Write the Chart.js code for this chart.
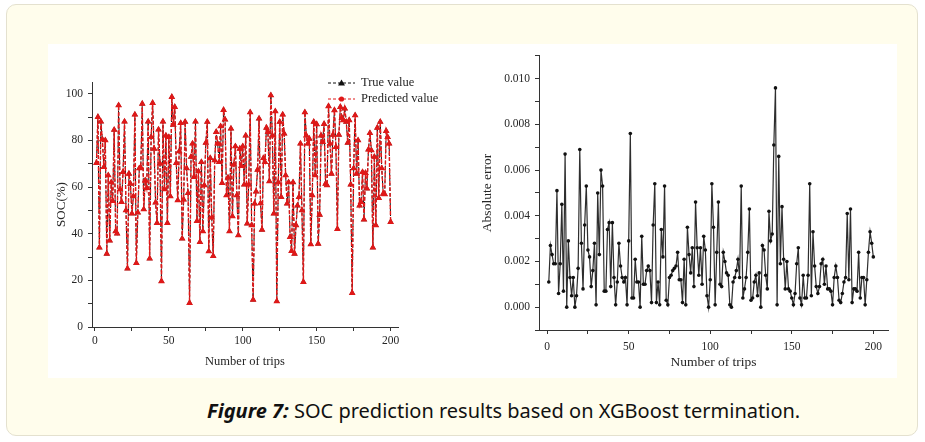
<!DOCTYPE html>
<html>
<head>
<meta charset="utf-8">
<script src="https://cdn.jsdelivr.net/npm/chart.js@4.4.1/dist/chart.umd.min.js"></script>
<style>
  html, body { margin: 0; padding: 0; }
  body { width: 925px; height: 442px; background: #ffffff; position: relative; overflow: hidden; }
  #frame { position: absolute; left: 6px; top: 4px; width: 910px; height: 430px; background: #fffdec; border: 1px solid #e4e1cf; border-radius: 10px; }
  #panel { position: absolute; left: 48px; top: 44px; width: 849px; height: 334px; background: #ffffff; }
  .box { position: absolute; top: 44px; height: 334px; }
  #socBox { left: 40px; width: 400px; }
  #errBox { left: 470px; width: 427px; }
  #caption { position: absolute; left: 207px; top: 397px; font-family: "Noto Sans", sans-serif; font-size: 20px; color: #111; white-space: nowrap; }
  #caption span.inner { display: inline-block; transform-origin: left center; }
</style>
</head>
<body>
<div id="frame"></div>
<div id="panel"></div>
<div class="box" id="socBox"><canvas id="socChart"></canvas></div>
<div class="box" id="errBox"><canvas id="errChart"></canvas></div>
<div id="caption"><span class="inner"><b><i>Figure 7:</i></b> SOC prediction results based on XGBoost termination.</span></div>

<script>
// trips 1..200
const trips = [];
for (let i = 1; i <= 200; i++) trips.push(i);

const trueSoc = [
  70.3, 90, 34, 88, 80.4, 68.5, 80, 31.4, 65, 37,
  62, 54, 84.5, 41, 40, 95, 59, 53.5, 66.4, 88,
  50, 25, 65.7, 61.4, 48.6, 56, 91, 27.4, 49, 68,
  68.3, 95.7, 50.4, 62.8, 59.5, 88, 29.3, 81.4, 96, 76.4,
  53.3, 44.6, 84.6, 70, 19.6, 88, 59, 82, 44.6, 81.4,
  56, 98.6, 86.7, 94.3, 70.3, 54.3, 75.3, 87.4, 37.9, 54.6,
  87.9, 68, 57.4, 10.3, 72.9, 78.6, 64.3, 88, 45.4, 66.7,
  36.4, 70.7, 41, 60.7, 78.9, 87.9, 32.4, 72.4, 46.9, 30.4,
  71.4, 83.6, 78.6, 70.7, 86, 61.7, 93, 88.9, 56.4, 64,
  41, 85, 47.4, 69.6, 77.4, 56.4, 39.3, 76.4, 69, 77.4,
  61, 82, 44.3, 61, 92, 43.6, 11.7, 52.9, 58, 67.4,
  89.3, 53, 41.7, 72.4, 70.7, 85.4, 83.6, 62.4, 99.3, 82,
  48.6, 92.4, 11, 62, 87.9, 55.7, 91, 82.9, 65, 52.9,
  62, 38.6, 32.6, 62, 31.4, 43.6, 52, 55.7, 78.6, 50,
  19.3, 92, 82, 78.6, 80.7, 35.4, 56.4, 87.9, 65, 86.9,
  35.7, 48.1, 82, 79.3, 87, 61.4, 60.7, 94.6, 78.6, 65.7,
  82.4, 92.9, 77.1, 42, 82.4, 94.3, 89.7, 88.6, 93.6, 87.9,
  78.9, 88.6, 61, 14.6, 68, 90.7, 65.7, 80, 52, 53.6,
  66.4, 46, 66, 59.3, 76, 83.1, 75.7, 34, 72.9, 43.6,
  85.4, 55.3, 87.9, 68, 57.1, 56.9, 84, 81.4, 78.6, 45
];

// predicted values sit on top of the true values at this scale
const predictedSoc = [
  70.3, 90, 34, 88, 80.4, 68.5, 80, 31.4, 65, 37,
  62, 54, 84.5, 41, 40, 95, 59, 53.5, 66.4, 88,
  50, 25, 65.7, 61.4, 48.6, 56, 91, 27.4, 49, 68,
  68.3, 95.7, 50.4, 62.8, 59.5, 88, 29.3, 81.4, 96, 76.4,
  53.3, 44.6, 84.6, 70, 19.6, 88, 59, 82, 44.6, 81.4,
  56, 98.6, 86.7, 94.3, 70.3, 54.3, 75.3, 87.4, 37.9, 54.6,
  87.9, 68, 57.4, 10.3, 72.9, 78.6, 64.3, 88, 45.4, 66.7,
  36.4, 70.7, 41, 60.7, 78.9, 87.9, 32.4, 72.4, 46.9, 30.4,
  71.4, 83.6, 78.6, 70.7, 86, 61.7, 93, 88.9, 56.4, 64,
  41, 85, 47.4, 69.6, 77.4, 56.4, 39.3, 76.4, 69, 77.4,
  61, 82, 44.3, 61, 92, 43.6, 11.7, 52.9, 58, 67.4,
  89.3, 53, 41.7, 72.4, 70.7, 85.4, 83.6, 62.4, 99.3, 82,
  48.6, 92.4, 11, 62, 87.9, 55.7, 91, 82.9, 65, 52.9,
  62, 38.6, 32.6, 62, 31.4, 43.6, 52, 55.7, 78.6, 50,
  19.3, 92, 82, 78.6, 80.7, 35.4, 56.4, 87.9, 65, 86.9,
  35.7, 48.1, 82, 79.3, 87, 61.4, 60.7, 94.6, 78.6, 65.7,
  82.4, 92.9, 77.1, 42, 82.4, 94.3, 89.7, 88.6, 93.6, 87.9,
  78.9, 88.6, 61, 14.6, 68, 90.7, 65.7, 80, 52, 53.6,
  66.4, 46, 66, 59.3, 76, 83.1, 75.7, 34, 72.9, 43.6,
  85.4, 55.3, 87.9, 68, 57.1, 56.9, 84, 81.4, 78.6, 45
];

const absError = [
  0.0011, 0.0027, 0.0023, 0.0019, 0.0019, 0.0051, 0.0006, 0.0019, 0.0045, 0.0007,
  0.0067, 0.0000, 0.0029, 0.0013, 0.0005, 0.0013, 0.0000, 0.0005, 0.0017, 0.0069,
  0.0028, 0.0008, 0.0036, 0.0053, 0.0025, 0.0022, 0.0009, 0.0016, 0.0028, 0.0001,
  0.0050, 0.0023, 0.0060, 0.0053, 0.0007, 0.0007, 0.0034, 0.0037, 0.0009, 0.0037,
  0.0013, 0.0001, 0.0011, 0.0028, 0.0018, 0.0013, 0.0011, 0.0013, 0.0001, 0.0029,
  0.0076, 0.0004, 0.0004, 0.0021, 0.0011, 0.0011, 0.0000, 0.0031, 0.0010, 0.0010,
  0.0016, 0.0018, 0.0016, 0.0002, 0.0036, 0.0054, 0.0002, 0.0011, 0.0001, 0.0034,
  0.0022, 0.0053, 0.0003, 0.0001, 0.0013, 0.0014, 0.0016, 0.0017, 0.0018, 0.0024,
  0.0012, 0.0012, 0.0002, 0.0021, 0.0001, 0.0035, 0.0023, 0.0015, 0.0026, 0.0009,
  0.0046, 0.0026, 0.0014, 0.0026, 0.0010, 0.0031, 0.0025, 0.0005, 0.0000, 0.0012,
  0.0054, 0.0035, 0.0001, 0.0024, 0.0046, 0.0010, 0.0009, 0.0024, 0.0020, 0.0015,
  0.0014, 0.0001, 0.0000, 0.0011, 0.0013, 0.0016, 0.0021, 0.0013, 0.0053, 0.0004,
  0.0008, 0.0013, 0.0024, 0.0043, 0.0003, 0.0004, 0.0011, 0.0014, 0.0005, 0.0015,
  0.0000, 0.0027, 0.0025, 0.0014, 0.0008, 0.0042, 0.0029, 0.0032, 0.0071, 0.0096,
  0.0001, 0.0066, 0.0019, 0.0044, 0.0021, 0.0008, 0.0020, 0.0008, 0.0007, 0.0004,
  0.0001, 0.0006, 0.0019, 0.0026, 0.0004, 0.0001, 0.0014, 0.0004, 0.0004, 0.0014,
  0.0054, 0.0005, 0.0033, 0.0018, 0.0009, 0.0006, 0.0009, 0.0019, 0.0021, 0.0010,
  0.0018, 0.0008, 0.0008, 0.0007, 0.0001, 0.0013, 0.0018, 0.0013, 0.0003, 0.0002,
  0.0006, 0.0011, 0.0013, 0.0041, 0.0012, 0.0043, 0.0002, 0.0008, 0.0008, 0.0007,
  0.0024, 0.0004, 0.0013, 0.0013, 0.0001, 0.0012, 0.0024, 0.0033, 0.0028, 0.0022
];

const socTicks = [0, 20, 40, 60, 80, 100];
const tripTicks = [0, 50, 100, 150, 200];
const errTicks = ['0.000', '0.002', '0.004', '0.006', '0.008', '0.010'];

const RED = '#e01818';
const AXIS = '#333333';
const TEXT = '#262626';
Chart.defaults.font.family = '"Liberation Serif", "Times New Roman", serif';
Chart.defaults.color = TEXT;

// little legend like the origin one: dashed line, marker in the middle, label
const socLegend = {
  id: 'socLegend',
  afterDraw(chart) {
    const ctx = chart.ctx;
    const x0 = 288, x1 = 315, xm = 301.5;
    chart.data.datasets.forEach((ds, i) => {
      const y = 39 + i * 16;
      ctx.save();
      ctx.strokeStyle = ds.borderColor;
      ctx.fillStyle = ds.borderColor;
      ctx.lineWidth = 1;
      ctx.setLineDash([3, 2]);
      ctx.beginPath();
      ctx.moveTo(x0, y);
      ctx.lineTo(x1, y);
      ctx.stroke();
      ctx.setLineDash([]);
      ctx.beginPath();
      if (i === 0) {
        ctx.moveTo(xm, y - 3.5);
        ctx.lineTo(xm + 3.5, y + 2.5);
        ctx.lineTo(xm - 3.5, y + 2.5);
        ctx.closePath();
      } else {
        ctx.arc(xm, y, 2.6, 0, Math.PI * 2);
      }
      ctx.fill();
      ctx.fillStyle = TEXT;
      ctx.font = '12.5px "Liberation Serif", serif';
      ctx.textBaseline = 'middle';
      ctx.fillText(ds.label, 321, y);
      ctx.restore();
    });
  }
};

function axisCommon() {
  return {
    grid: { drawOnChartArea: false, drawTicks: true, tickLength: 4, color: AXIS, tickColor: AXIS },
    border: { display: true, color: AXIS, width: 1 }
  };
}

new Chart(document.getElementById('socChart'), {
  type: 'line',
  data: {
    labels: trips,
    datasets: [
      {
        label: 'True value', data: trueSoc, order: 2,
        borderColor: '#111111', backgroundColor: '#111111',
        borderWidth: 1, borderDash: [3, 2],
        pointStyle: 'triangle', pointRadius: 3.4, pointBorderWidth: 0
      },
      {
        label: 'Predicted value', data: predictedSoc, order: 1,
        borderColor: RED, backgroundColor: RED,
        borderWidth: 1.4, borderDash: [4, 2],
        pointStyle: 'triangle', pointRadius: 3.9, pointBorderWidth: 0
      }
    ]
  },
  options: {
    responsive: true, maintainAspectRatio: false, animation: false,
    layout: { padding: { top: 38, right: 42, left: 0, bottom: 0 } },
    plugins: { legend: { display: false }, tooltip: { enabled: false } },
    scales: {
      x: {
        type: 'linear', min: -2, max: 205,
        afterFit: s => { s.height = 51; },
        ticks: {
          stepSize: 25, includeBounds: false, autoSkip: false, maxRotation: 0, maxTicksLimit: 20,
          padding: 3, font: { size: 11.5 },
          callback: v => tripTicks.includes(v) ? String(v) : ''
        },
        title: { display: true, text: 'Number of trips', font: { size: 12.5 }, padding: { top: 2, bottom: 9 } },
        ...axisCommon()
      },
      y: {
        min: 0, max: 105,
        afterFit: s => { s.width = 52; },
        ticks: {
          stepSize: 10, includeBounds: false, autoSkip: false, maxTicksLimit: 20,
          padding: 5, font: { size: 11.5 },
          callback: v => socTicks.includes(v) ? String(v) : ''
        },
        title: { display: true, text: 'SOC(%)', font: { size: 13 }, padding: { top: 14, bottom: 0 } },
        ...axisCommon()
      }
    }
  },
  plugins: [socLegend]
});

new Chart(document.getElementById('errChart'), {
  type: 'line',
  data: {
    labels: trips,
    datasets: [{
      label: 'Absolute error', data: absError,
      borderColor: '#2e2e2e', backgroundColor: '#111111',
      borderWidth: 1.2, pointRadius: 1.8, pointBorderWidth: 0
    }]
  },
  options: {
    responsive: true, maintainAspectRatio: false, animation: false,
    layout: { padding: { top: 4, right: 9, left: 0, bottom: 0 } },
    plugins: { legend: { display: false }, tooltip: { enabled: false } },
    scales: {
      x: {
        type: 'linear', min: -5, max: 209,
        afterFit: s => { s.height = 48; },
        ticks: {
          stepSize: 25, includeBounds: false, autoSkip: false, maxRotation: 0, maxTicksLimit: 20,
          padding: 6, font: { size: 11.5 },
          callback: v => tripTicks.includes(v) ? String(v) : ''
        },
        title: { display: true, text: 'Number of trips', font: { size: 13.5 }, padding: { top: 2, bottom: 7 } },
        ...axisCommon()
      },
      y: {
        min: -0.001, max: 0.011,
        afterFit: s => { s.width = 69; },
        ticks: {
          stepSize: 0.001, includeBounds: false, autoSkip: false, maxTicksLimit: 20,
          padding: 5, font: { size: 11.5 },
          callback: v => {
            const t = v.toFixed(3);
            return errTicks.includes(t) ? t : '';
          }
        },
        title: { display: true, text: 'Absolute error', font: { size: 13.5 }, padding: { top: 9, bottom: 0 } },
        ...axisCommon()
      }
    }
  }
});

// squeeze the caption to the width it has in the figure
const cap = document.querySelector('#caption .inner');
const w = cap.getBoundingClientRect().width;
cap.style.transform = 'scaleX(' + (593 / w).toFixed(3) + ')';
</script>
</body>
</html>
